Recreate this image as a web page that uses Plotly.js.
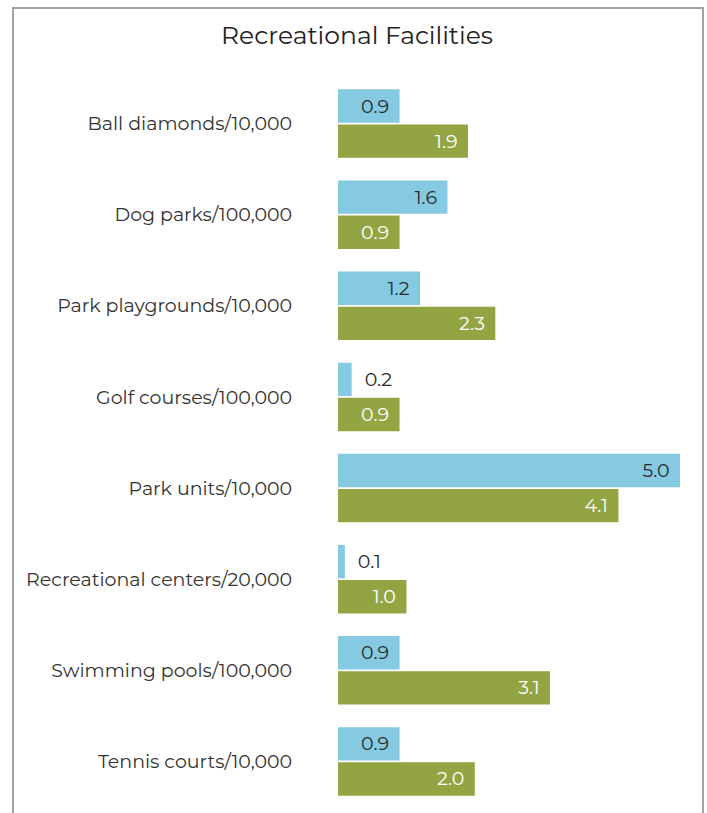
<!DOCTYPE html>
<html>
<head>
<meta charset="utf-8">
<script src="https://cdn.plot.ly/plotly-3.0.1.min.js"></script>
<style>
  html, body { margin: 0; padding: 0; background: #fff; overflow: hidden; }
  #chart { width: 707px; height: 813px; }
  #frame { position: absolute; left: 12px; top: 7px; width: 688px; height: 830px;
           border: 2px solid #a3a3a3; border-bottom: none; pointer-events: none; }
</style>
</head>
<body>
<div id="chart"></div>
<div id="frame"></div>
<script>
const categories = [
  "Ball diamonds/10,000",
  "Dog parks/100,000",
  "Park playgrounds/10,000",
  "Golf courses/100,000",
  "Park units/10,000",
  "Recreational centers/20,000",
  "Swimming pools/100,000",
  "Tennis courts/10,000"
];
const blueValues  = [0.9, 1.6, 1.2, 0.2, 5.0, 0.1, 0.9, 0.9];
const greenValues = [1.9, 0.9, 2.3, 0.9, 4.1, 1.0, 3.1, 2.0];

function labelsFor(vals) {
  return vals.map(v => v < 0.5 ? "\u00a0\u00a0" + v.toFixed(1) : v.toFixed(1) + "\u00a0\u2009");
}
function positionsFor(vals) {
  return vals.map(v => v < 0.5 ? "outside" : "inside");
}

const font = "Montserrat, Lato, 'Open Sans', sans-serif";

const traces = [
  {
    type: "bar", orientation: "h",
    y: categories, x: blueValues,
    text: labelsFor(blueValues),
    textposition: positionsFor(blueValues),
    insidetextanchor: "end",
    insidetextfont: { color: "#2b2b2b", size: 19, family: font },
    outsidetextfont: { color: "#2b2b2b", size: 19, family: font },
    marker: { color: "#85cae1" },
    cliponaxis: false,
    hoverinfo: "none"
  },
  {
    type: "bar", orientation: "h",
    y: categories, x: greenValues,
    text: labelsFor(greenValues),
    textposition: positionsFor(greenValues),
    insidetextanchor: "end",
    insidetextfont: { color: "#ffffff", size: 19, family: font },
    outsidetextfont: { color: "#2b2b2b", size: 19, family: font },
    marker: { color: "#93a543" },
    cliponaxis: false,
    hoverinfo: "none"
  }
];

const layout = {
  width: 707, height: 813,
  paper_bgcolor: "#ffffff", plot_bgcolor: "#ffffff",
  margin: { l: 338, r: 27, t: 78, b: 6 },
  showlegend: false,
  barmode: "group",
  bargap: 0.23,
  bargroupgap: 0.05,
  title: {
    text: "Recreational Facilities",
    font: { family: font, size: 25, color: "#222222" },
    x: 0.505, xref: "container", xanchor: "center",
    y: 0.957, yref: "container", yanchor: "middle"
  },
  xaxis: {
    range: [0, 5], showgrid: false, zeroline: false, showline: false,
    showticklabels: false, ticks: "", fixedrange: true
  },
  yaxis: {
    autorange: "reversed", type: "category",
    showgrid: false, zeroline: false, showline: false,
    ticks: "outside", ticklen: 41, tickcolor: "rgba(0,0,0,0)",
    tickfont: { family: font, size: 19, color: "#333333" },
    fixedrange: true
  }
};

Plotly.newPlot("chart", traces, layout, { displayModeBar: false, staticPlot: true });
</script>
</body>
</html>
